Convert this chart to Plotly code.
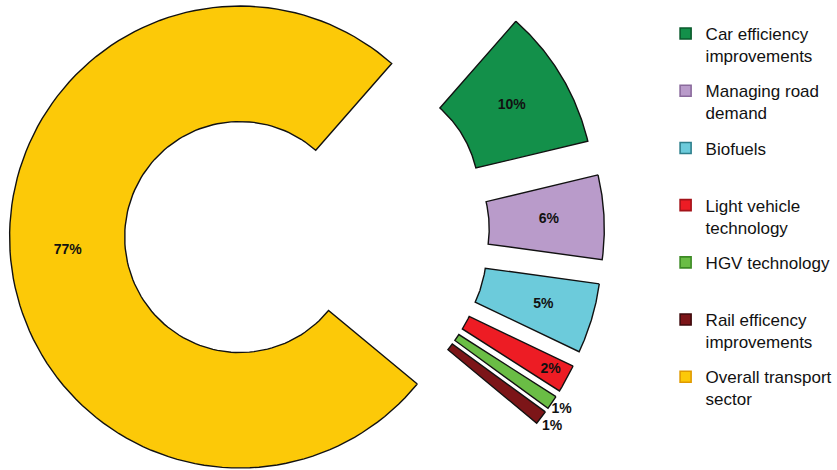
import numpy as np
import plotly.graph_objects as go

# Share of transport-sector emission savings by measure (%)
categories = [
    "Car efficiency improvements",
    "Managing road demand",
    "Biofuels",
    "Light vehicle technology",
    "HGV technology",
    "Rail efficency improvements",
    "Overall transport sector",
]
legend_labels = [
    "Car efficiency<br>improvements",
    "Managing road<br>demand",
    "Biofuels<br> ",
    "Light vehicle<br>technology",
    "HGV technology<br> ",
    "Rail efficency<br>improvements",
    "Overall transport<br>sector",
]
values = [10, 6, 5, 2, 1, 1, 77]

# Styling
fill_colors = ["#13904a", "#b99bca", "#6ccbdb", "#ed1c24", "#6abd45", "#7c1518", "#fcc908"]
legend_edges = ["#0a5a2c", "#8a6a9c", "#2d7f8c", "#a31219", "#3c8a24", "#3e0a0c", "#e09a00"]
pull = [0.312, 0.312, 0.312, 0.312, 0.312, 0.312, 0.273]      # explode distance, ring radii
label_r = [0.75, 0.76, 0.78, 0.92, 1.05, 1.06, 0.75]          # label radius, ring radii

HOLE = 0.5          # inner radius / outer radius
START = 48.7        # first slice edge, degrees ccw from 3 o'clock; slices run clockwise

W, H = 837, 470
PX = 231            # outer radius in pixels
CX, CY = 303.5, 232 # pie centre in pixels from top-left
x_range = [-CX / PX, (W - CX) / PX]
y_range = [-(H - CY) / PX, CY / PX]

total = float(sum(values))
spans = np.array(values) / total * 360.0
ends = START - np.cumsum(spans)
starts = ends + spans

fig = go.Figure()

label_x, label_y = [], []
for i, name in enumerate(categories):
    a0, a1 = np.radians(starts[i]), np.radians(ends[i])
    mid = 0.5 * (a0 + a1)
    ox, oy = pull[i] * np.cos(mid), pull[i] * np.sin(mid)
    t = np.linspace(a0, a1, 120)
    xs = np.concatenate([np.cos(t), HOLE * np.cos(t[::-1]), [np.cos(a0)]]) + ox
    ys = np.concatenate([np.sin(t), HOLE * np.sin(t[::-1]), [np.sin(a0)]]) + oy
    fig.add_trace(go.Scatter(
        x=xs, y=ys, mode="lines", fill="toself",
        fillcolor=fill_colors[i],
        line=dict(color="#111111", width=1.4),
        name=name, showlegend=False, hoverinfo="skip",
    ))
    label_x.append(ox + label_r[i] * np.cos(mid))
    label_y.append(oy + label_r[i] * np.sin(mid))

fig.add_trace(go.Scatter(
    x=label_x, y=label_y, mode="text",
    text=[f"{v}%" for v in values],
    textfont=dict(family="Liberation Sans, Arial, sans-serif", size=14,
                  color="#111111", weight="bold"),
    showlegend=False, hoverinfo="skip", cliponaxis=False,
))

# Legend entries
for i, name in enumerate(categories):
    fig.add_trace(go.Scatter(
        x=[None], y=[None], mode="markers",
        marker=dict(symbol="square", size=11, color=fill_colors[i],
                    line=dict(color=legend_edges[i], width=1.6)),
        name=legend_labels[i], legendgroup=f"g{i}", showlegend=True,
    ))

fig.update_layout(
    width=W, height=H,
    margin=dict(l=0, r=0, t=0, b=0),
    paper_bgcolor="white", plot_bgcolor="white",
    xaxis=dict(range=x_range, visible=False, fixedrange=True),
    yaxis=dict(range=y_range, visible=False, fixedrange=True),
    showlegend=True,
    legend=dict(
        x=668 / W, xanchor="left", y=1.0 - 16 / H, yanchor="top",
        font=dict(family="Liberation Sans, Arial, sans-serif", size=17, color="#111111"),
        valign="top", tracegroupgap=10, bgcolor="rgba(0,0,0,0)",
        itemclick=False, itemdoubleclick=False,
    ),
)

fig.write_html("out.html")
